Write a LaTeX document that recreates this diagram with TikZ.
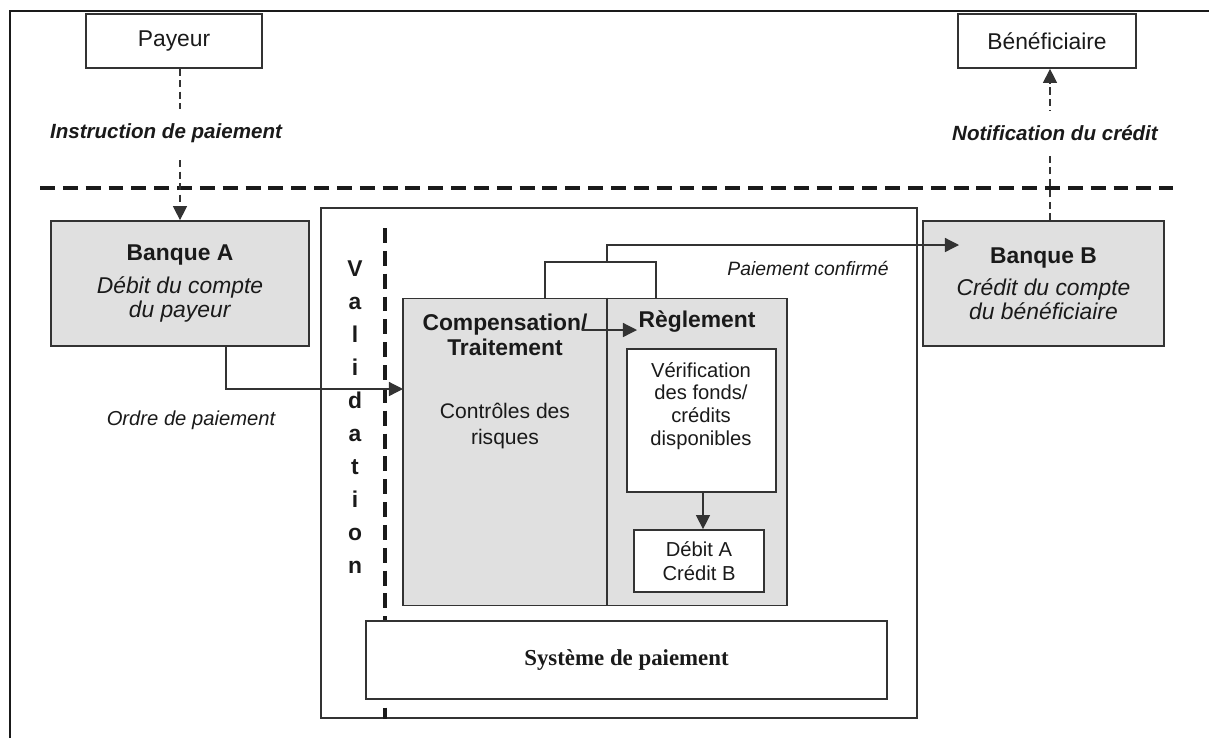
\documentclass[tikz,border=0pt]{standalone}
\usepackage{fontspec}
\setmainfont{Liberation Sans}
\newfontfamily\serifbf{Liberation Serif}
\usetikzlibrary{arrows.meta}
\definecolor{boxgray}{HTML}{E0E0E0}
\definecolor{edge}{HTML}{333333}
\definecolor{ink}{HTML}{1A1A1A}
\begin{document}
\begin{tikzpicture}[x=0.02cm,y=-0.02cm,
  box/.style={draw=edge, line width=1pt, inner sep=0pt, text=ink, align=center},
  graybox/.style={box, fill=boxgray},
  conn/.style={draw=edge, line width=0.7pt},
  tip/.style={-{Triangle[length=8pt,width=8pt]}},
  arr/.style={conn, tip},
  thindash/.style={conn, dash pattern=on 4pt off 2.5pt, tip},
  bigdash/.style={draw=ink, line width=1.8pt, dash pattern=on 8.5pt off 4.5pt},
  lbl/.style={text=ink, inner sep=1pt, align=center},
  fbig/.style={font=\fontsize{13}{13.5}\selectfont},
  fmid/.style={font=\fontsize{12}{14.5}\selectfont},
  fsmall/.style={font=\fontsize{11.5}{13}\selectfont},
]
\useasboundingbox (0,0) rectangle (1209,738);
% frame
\draw[draw=ink, line width=1.4pt] (10,738) -- (10,11) -- (1209,11);

% top boxes
\node[box, fbig, minimum width=3.52cm, minimum height=1.08cm] (payeur) at (174,41) {Payeur};
\node[box, fbig, minimum width=3.56cm, minimum height=1.08cm] (benef) at (1047,41) {Bénéficiaire};

% horizontal separator
\coordinate (hl) at (40,188);
\coordinate (hr) at (1173,188);
\draw[bigdash] (hl) -- (hr);

% banks
\node[graybox, fbig, minimum width=5.16cm, minimum height=2.5cm] (banqueA) at (180,283.5)
  {\textbf{Banque A}\\[5pt]\textit{Débit du compte}\\\textit{du payeur}};
\node[graybox, fbig, minimum width=4.82cm, minimum height=2.5cm] (banqueB) at (1043.5,283.5)
  {\textbf{Banque B}\\[5pt]\textit{Crédit du compte}\\\textit{du bénéficiaire}};

% container
\node[box, minimum width=11.92cm, minimum height=10.2cm] (cont) at (619,463) {};

% validation line (drawn before the payment-system box, which hides it)
\coordinate (vtop) at (385,228);
\draw[bigdash] (vtop) -- (vtop |- cont.south);
\node[lbl, font=\bfseries\fontsize{13}{18.8}\selectfont] (valid) at (355,417) {V\\a\\l\\i\\d\\a\\t\\i\\o\\n};

% compensation / reglement block
\node[graybox, minimum width=7.68cm, minimum height=6.14cm] (comp) at (595,452) {};
\coordinate (div) at (607,0);
\draw[conn] (comp.north -| div) -- (comp.south -| div);
\node[lbl, font=\bfseries\fontsize{13}{14.2}\selectfont] (comptxt) at (505,335) {Compensation/\\Traitement};
\node[lbl, fmid] (ctrl) at (505,426) {Contrôles des\\risques};
\node[lbl, font=\bfseries\fontsize{13}{14}\selectfont] (regl) at (697,322) {Règlement};
\node[box, fill=white, minimum width=2.98cm, minimum height=2.86cm] (verif) at (701.5,420.5) {};
\node[lbl, fsmall] (veriftxt) at (701,406) {Vérification\\des fonds/\\crédits\\disponibles};
\node[box, fill=white, font=\fontsize{11.5}{13.5}\selectfont, minimum width=2.6cm, minimum height=1.24cm] (debit) at (699,561) {Débit A\\Crédit B};

% systeme de paiement
\node[box, fill=white, font=\serifbf\bfseries\fontsize{13}{14}\selectfont, minimum width=10.42cm, minimum height=1.56cm] (systeme) at (626.5,660) {Système de paiement};

% Payeur -> Banque A
\draw[thindash] (payeur.south -| banqueA.north) -- (banqueA.north);
\node[lbl, fill=white, inner ysep=8pt, font=\bfseries\itshape\fontsize{11.7}{13}\selectfont] (instr) at (166,133) {Instruction de paiement};

% Banque B -> Beneficiaire
\coordinate (nx) at (1050,0);
\draw[thindash] (banqueB.north -| nx) -- (benef.south -| nx);
\node[lbl, fill=white, inner ysep=8pt, font=\bfseries\itshape\fontsize{11.7}{13}\selectfont] (notif) at (1055,133) {Notification du crédit};

% Banque A -> Compensation (ordre de paiement)
\coordinate (aout) at (226,346);
\coordinate (ordre) at (403,389);
\draw[arr] (aout) |- (ordre);
\node[lbl, font=\itshape\fontsize{11.5}{13}\selectfont] (ordretxt) at (191,420) {Ordre de paiement};

% Compensation -> Reglement
\coordinate (cr1) at (582,330);
\coordinate (cr2) at (637,330);
\draw[arr] (cr1) -- (cr2);

% Verification -> Debit
\coordinate (vd) at (703,0);
\draw[arr] (verif.south -| vd) -- (debit.north -| vd);

% bracket and confirmation
\coordinate (bl) at (545,262);
\coordinate (br) at (656,262);
\coordinate (bm) at (607,262);
\coordinate (conf) at (959,245);
\draw[conn] (comp.north -| bl) -- (bl) -- (br) -- (comp.north -| br);
\draw[arr] (bm) |- (conf);
\node[lbl, font=\itshape\fontsize{11}{13}\selectfont] (conftxt) at (808,268) {Paiement confirmé};
\end{tikzpicture}
\end{document}
